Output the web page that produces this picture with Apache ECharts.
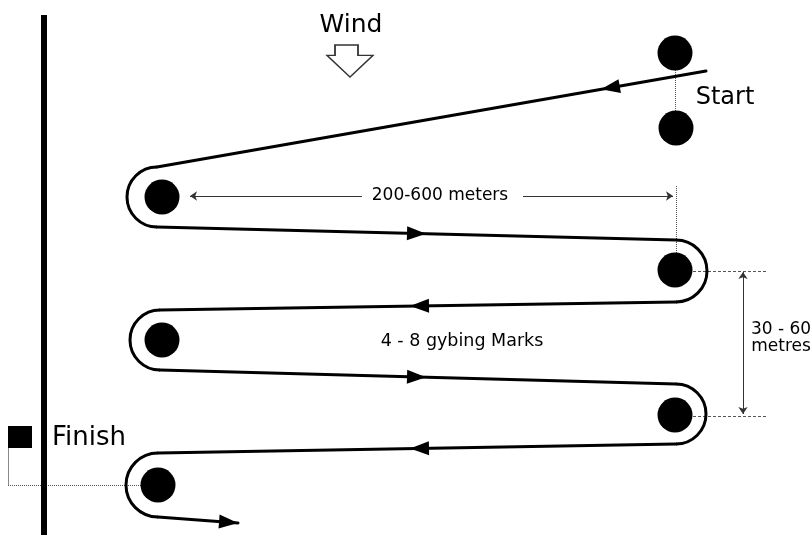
<!DOCTYPE html>
<html>
<head>
<meta charset="utf-8">
<script src="https://cdn.jsdelivr.net/npm/echarts@6/dist/echarts.min.js"></script>
<style>
  html, body { margin: 0; padding: 0; background: #fff; }
  #chart { width: 812px; height: 535px; }
</style>
</head>
<body>
<div id="chart"></div>
<script>
// course layout in picture units (x right, y down)
const buoys = [[675, 53], [676, 128], [162, 197], [675, 270], [162, 340], [675, 415], [158, 485]];
const legs = [
  [[706, 71], [157, 167]],
  [[157, 227], [676, 240]],
  [[676, 302], [160, 310]],
  [[160, 370], [676, 384]],
  [[676, 444], [158, 453]],
  [[158, 517], [238, 523]]
];
// turn centre x, y, radius, side (-1 = rounds to the left, 1 = to the right)
const turns = [[157, 197, 30, -1], [676, 271, 31, 1], [160, 340, 30, -1], [676, 414, 30, 1], [158, 485, 32, -1]];
// arrow heads: leg index, x of the tip
const arrowsAt = [[0, 601], [1, 426], [2, 410], [3, 426], [4, 410], [5, 238]];
const startLine = [[44, 15], [44, 535]];
const guides = [
  [[675, 70], [675, 112]],
  [[676, 186], [676, 255]],
  [[8, 485], [145, 485]]
];
const dashes = [
  [[693, 271], [767, 271]],
  [[693, 416], [767, 416]]
];
const dimArrows = [
  [[362, 196], [190, 196]],
  [[523, 196], [673, 196]]
];
const dimBoth = [[[743, 272], [743, 414]]];
const finishPost = [[8, 448], [8, 485]];
const windPos = [350, 61];
const finishFlag = [20, 437];
const texts = [
  ['Wind', 351, 25, 25],
  ['Start', 725, 98, 24],
  ['Finish', 89, 438, 26],
  ['200-600 meters', 440, 196, 17],
  ['4 - 8 gybing Marks', 462, 341, 17.5],
  ['30 - 60\nmetres', 781, 338, 17]
];

const arrowPts = arrowsAt.map(([i, x]) => {
  const [a, b] = legs[i];
  const t = (x - a[0]) / (b[0] - a[0]);
  return [x, a[1] + t * (b[1] - a[1]), b[0] - a[0], b[1] - a[1]];
});

const chart = echarts.init(document.getElementById('chart'));
chart.setOption({
  animation: false,
  grid: { left: 0, right: 0, top: 0, bottom: 0 },
  xAxis: { type: 'value', min: 0, max: 812, show: false },
  yAxis: { type: 'value', min: 0, max: 535, inverse: true, show: false },
  series: [
    {
      type: 'line',
      data: startLine,
      symbol: 'none',
      lineStyle: { color: '#000', width: 6 }
    },
    {
      type: 'lines',
      coordinateSystem: 'cartesian2d',
      data: guides.map(c => ({ coords: c })),
      lineStyle: { color: '#555', width: 1, type: 'dotted', opacity: 1 }
    },
    {
      type: 'lines',
      coordinateSystem: 'cartesian2d',
      data: dashes.map(c => ({ coords: c })),
      lineStyle: { color: '#555', width: 1, type: [3, 2], opacity: 1 }
    },
    {
      type: 'lines',
      coordinateSystem: 'cartesian2d',
      data: [{ coords: finishPost }],
      lineStyle: { color: '#888', width: 1, opacity: 1 }
    },
    {
      type: 'lines',
      coordinateSystem: 'cartesian2d',
      data: dimArrows.map(c => ({ coords: c })),
      symbol: ['none', 'arrow'],
      symbolSize: 7,
      lineStyle: { color: '#333', width: 1, opacity: 1 }
    },
    {
      type: 'lines',
      coordinateSystem: 'cartesian2d',
      data: dimBoth.map(c => ({ coords: c })),
      symbol: ['arrow', 'arrow'],
      symbolSize: 7,
      lineStyle: { color: '#333', width: 1, opacity: 1 }
    },
    {
      type: 'custom',
      data: legs.map(l => [l[0][0], l[0][1], l[1][0], l[1][1]]),
      renderItem: (params, api) => {
        const p1 = api.coord([api.value(0), api.value(1)]);
        const p2 = api.coord([api.value(2), api.value(3)]);
        return {
          type: 'line',
          shape: { x1: p1[0], y1: p1[1], x2: p2[0], y2: p2[1] },
          style: { stroke: '#000', lineWidth: 3, lineCap: 'round' }
        };
      }
    },
    {
      type: 'custom',
      data: turns,
      renderItem: (params, api) => {
        const c = api.coord([api.value(0), api.value(1)]);
        const r = api.size([api.value(2), 0])[0];
        const left = api.value(3) < 0;
        return {
          type: 'arc',
          shape: {
            cx: c[0], cy: c[1], r: r,
            startAngle: left ? Math.PI / 2 : -Math.PI / 2,
            endAngle: left ? Math.PI * 1.5 : Math.PI / 2,
            clockwise: true
          },
          style: { stroke: '#000', lineWidth: 3, fill: 'none' }
        };
      }
    },
    {
      type: 'custom',
      data: arrowPts,
      renderItem: (params, api) => {
        const tip = api.coord([api.value(0), api.value(1)]);
        const back = api.coord([api.value(0) - api.value(2), api.value(1) - api.value(3)]);
        let dx = tip[0] - back[0], dy = tip[1] - back[1];
        const len = Math.hypot(dx, dy);
        dx /= len; dy /= len;
        const L = 19, W = 7;
        const bx = tip[0] - dx * L, by = tip[1] - dy * L;
        return {
          type: 'polygon',
          shape: { points: [tip, [bx - dy * W, by + dx * W], [bx + dy * W, by - dx * W]] },
          style: { fill: '#000' }
        };
      }
    },
    {
      type: 'scatter',
      data: buoys,
      symbol: 'circle',
      symbolSize: 35,
      itemStyle: { color: '#000', opacity: 1 }
    },
    {
      type: 'scatter',
      data: [windPos],
      symbol: 'path://M8 0 H31 V10 H46 L23 31 L0 10 H8 Z',
      symbolSize: [46, 32],
      itemStyle: { color: '#fff', borderColor: '#333', borderWidth: 1.5, opacity: 1 }
    },
    {
      type: 'scatter',
      data: [finishFlag],
      symbol: 'rect',
      symbolSize: [24, 22],
      itemStyle: { color: '#000', opacity: 1 }
    },
    {
      type: 'scatter',
      data: texts.map(t => ({
        value: [t[1], t[2]],
        label: {
          show: true,
          position: 'inside',
          formatter: t[0],
          fontSize: t[3],
          lineHeight: t[3],
          fontFamily: 'DejaVu Sans',
          color: '#000',
          opacity: 1,
          align: 'center',
          verticalAlign: 'middle'
        }
      })),
      symbolSize: 1,
      itemStyle: { color: 'rgba(0,0,0,0)' },
      silent: true
    }
  ]
});
</script>
</body>
</html>
